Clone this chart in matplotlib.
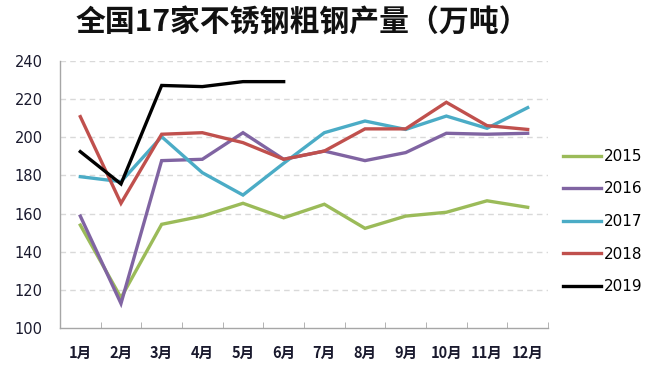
import matplotlib
matplotlib.use("Agg")
import matplotlib.pyplot as plt

plt.rcParams['font.family'] = ['DejaVu Sans', 'Noto Sans CJK SC']

months = ["1月", "2月", "3月", "4月", "5月", "6月", "7月", "8月", "9月", "10月", "11月", "12月"]
s2015 = [154, 116, 154.4, 158.7, 165.4, 157.8, 164.9, 152.3, 158.7, 160.7, 166.7, 163.3]
s2016 = [158.7, 113, 187.7, 188.4, 202.3, 188.4, 192.7, 187.7, 191.9, 202, 201.5, 202]
s2017 = [179.3, 176.7, 200.2, 181.4, 169.7, 186.3, 202.3, 208.4, 204, 211, 204.6, 215.4]
s2018 = [210.7, 165.4, 201.5, 202.3, 197.1, 188.4, 192.7, 204.3, 204.3, 218.2, 206, 204]
s2019 = [192.4, 175.5, 227, 226.4, 229, 229]
series = [("2015", s2015, "#9BBB59"), ("2016", s2016, "#8064A2"),
          ("2017", s2017, "#4BACC6"), ("2018", s2018, "#C0504D"),
          ("2019", s2019, "#000000")]
yticks = [100, 120, 140, 160, 180, 200, 220, 240]

fig = plt.figure(figsize=(6.52, 3.74), dpi=100)
ax = fig.add_axes([0.092, 0.122, 0.7485, 0.716])

x = list(range(len(months)))
handles = []
for name, vals, col in series:
    h, = ax.plot(x[:len(vals)], vals, color=col, lw=2.4, label=name, solid_joinstyle='miter', zorder=3)
    handles.append(h)

ax.set_xlim(-0.5, len(months) - 0.5)
ax.set_ylim(100, 240)
ax.set_yticks(yticks)
ax.set_yticklabels([str(v) for v in yticks], fontsize=10.5, color='#1a1a2e')
ax.set_xticks(x)
ax.set_xticklabels(months, fontsize=10.5, color='#1a1a2e', family=['Noto Sans CJK SC'], fontweight='bold')
ax.set_xticks([i - 0.5 for i in range(len(months) + 1)], minor=True)
ax.tick_params(axis='x', which='major', length=0, pad=12)
ax.tick_params(axis='x', which='minor', length=4, direction='in', color='#A6A6A6')
ax.tick_params(axis='y', length=0, pad=12.5)
for t in yticks[1:]:
    ax.axhline(t, color='#D9D9D9', lw=1, ls=(0, (4, 3)), zorder=1)
for s in ['top', 'right']:
    ax.spines[s].set_visible(False)
for s in ['left', 'bottom']:
    ax.spines[s].set_color('#A6A6A6')
    ax.spines[s].set_linewidth(1)

fig.legend(handles=handles, loc='upper left', bbox_to_anchor=(0.863, 0.602), frameon=False,
           fontsize=11, handlelength=2.5, handletextpad=0.2, labelspacing=1.15,
           borderaxespad=0, borderpad=0)

fig.text(0.464, 0.94, "全国17家不锈钢粗钢产量（万吨）", ha='center', va='center',
         fontsize=21.5, fontweight='bold', family=['Noto Sans CJK SC'], color='#111111')

fig.savefig("out.png", dpi=100)
